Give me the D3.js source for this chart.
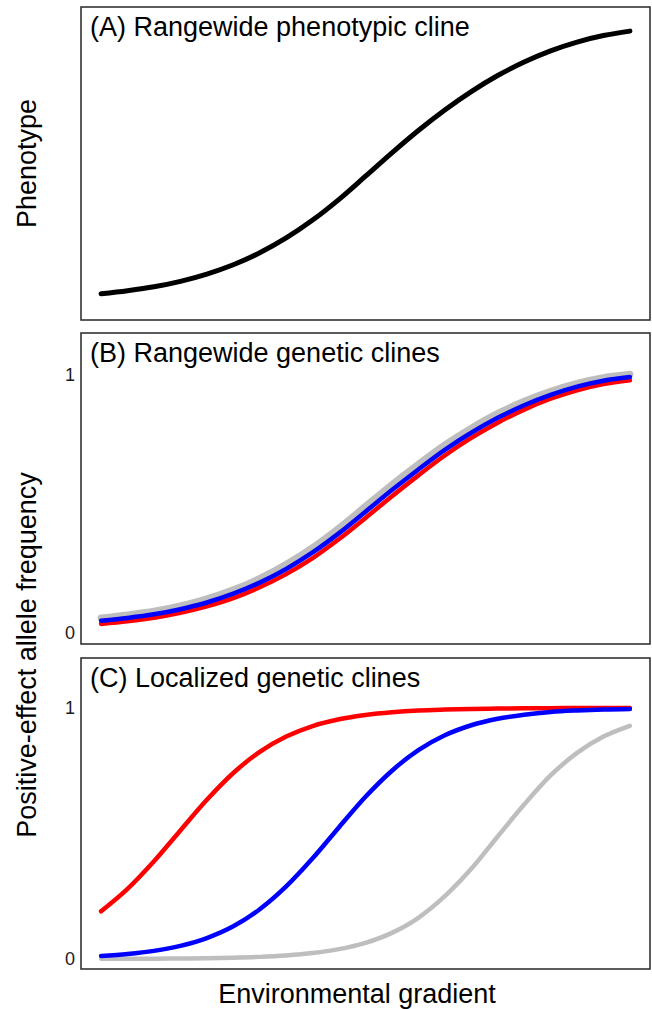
<!DOCTYPE html>
<html>
<head>
<meta charset="utf-8">
<script src="https://cdn.jsdelivr.net/npm/d3@7"></script>
<style>
  html, body { margin: 0; padding: 0; background: #fff; }
  svg text { font-family: "Liberation Sans", Arial, sans-serif; fill: #000; }
</style>
</head>
<body>
<svg id="chart" width="652" height="1009"></svg>
<script>
// Position along the environmental gradient (0 = one end, 1 = the other)
const gradient = [0, 0.05, 0.1, 0.15, 0.2, 0.25, 0.3, 0.35, 0.4, 0.45, 0.5,
                  0.55, 0.6, 0.65, 0.7, 0.75, 0.8, 0.85, 0.9, 0.95, 1];

// (A) rangewide phenotype
const phenotype = [0.058, 0.070, 0.085, 0.106, 0.134, 0.170, 0.216, 0.273, 0.342, 0.422, 0.511,
                   0.601, 0.687, 0.766, 0.837, 0.899, 0.951, 0.994, 1.028, 1.053, 1.070];

// (B) rangewide allele-frequency clines
const rangeGrey = [0.058, 0.070, 0.084, 0.105, 0.132, 0.167, 0.211, 0.266, 0.331, 0.407, 0.491,
                   0.575, 0.654, 0.729, 0.794, 0.851, 0.898, 0.937, 0.968, 0.990, 1.003];
const rangeRed  = [0.035, 0.045, 0.059, 0.078, 0.103, 0.135, 0.177, 0.228, 0.290, 0.364, 0.446,
                   0.530, 0.611, 0.688, 0.756, 0.815, 0.866, 0.908, 0.941, 0.965, 0.980];
const rangeBlue = [0.047, 0.058, 0.072, 0.092, 0.118, 0.152, 0.195, 0.248, 0.312, 0.387, 0.470,
                   0.554, 0.634, 0.710, 0.776, 0.834, 0.883, 0.923, 0.955, 0.978, 0.992];

// (C) localized allele-frequency clines
const localGrey = [0.0004, 0.0006, 0.0010, 0.0017, 0.0029, 0.0050, 0.0083, 0.0140, 0.0234, 0.0392, 0.0642,
                   0.104, 0.164, 0.250, 0.359, 0.488, 0.615, 0.731, 0.821, 0.886, 0.929];
const localRed  = [0.190, 0.279, 0.389, 0.512, 0.634, 0.741, 0.825, 0.886, 0.928, 0.955, 0.972,
                   0.983, 0.990, 0.9936, 0.9961, 0.9976, 0.9986, 0.9991, 0.9995, 0.9997, 0.9998];
const localBlue = [0.0121, 0.0198, 0.0323, 0.0522, 0.0832, 0.130, 0.198, 0.289, 0.401, 0.525, 0.646,
                   0.750, 0.832, 0.891, 0.931, 0.957, 0.973, 0.984, 0.990, 0.994, 0.996];

const freqTicks = [0, 1];
const freqTickLabels = ["0", "1"];

const panelTitles = ["(A) Rangewide phenotypic cline",
                     "(B) Rangewide genetic clines",
                     "(C) Localized genetic clines"];

const svg = d3.select("#chart");
const left = 81, right = 650;

const x = d3.scaleLinear().domain([-0.038, 1.038]).range([left, right]);

const panels = [
  { top: 7,   bottom: 320, domain: [-0.043, 1.163], ticks: false,
    series: [{ values: phenotype, color: "#000000", width: 5 }] },
  { top: 333, bottom: 644, domain: [-0.043, 1.163], ticks: true,
    series: [{ values: rangeGrey, color: "#bebebe", width: 7 },
             { values: rangeRed,  color: "#ff0000", width: 4.5 },
             { values: rangeBlue, color: "#0000ff", width: 4.5 }] },
  { top: 658, bottom: 969, domain: [-0.040, 1.199], ticks: true,
    series: [{ values: localGrey, color: "#bebebe", width: 4.5 },
             { values: localRed,  color: "#ff0000", width: 4.5 },
             { values: localBlue, color: "#0000ff", width: 4.5 }] }
];

panels.forEach((p, i) => {
  const y = d3.scaleLinear().domain(p.domain).range([p.bottom, p.top]);
  const g = svg.append("g");

  const line = d3.line()
    .x((d, j) => x(gradient[j]))
    .y(d => y(d))
    .curve(d3.curveMonotoneX);

  p.series.forEach(s => {
    g.append("path")
      .datum(s.values)
      .attr("d", line)
      .attr("fill", "none")
      .attr("stroke", s.color)
      .attr("stroke-width", s.width)
      .attr("stroke-linecap", "round")
      .attr("stroke-linejoin", "round");
  });

  // panel border
  g.append("rect")
    .attr("x", left).attr("y", p.top)
    .attr("width", right - left).attr("height", p.bottom - p.top)
    .attr("fill", "none").attr("stroke", "#333").attr("stroke-width", 1.6);

  g.append("text")
    .attr("x", left + 9).attr("y", p.top + 29)
    .style("font-size", "27px")
    .text(panelTitles[i]);

  if (p.ticks) {
    const axis = d3.axisLeft(y).tickValues(freqTicks)
      .tickFormat((d, k) => freqTickLabels[k]).tickSize(0).tickPadding(6);
    const ag = g.append("g").attr("transform", `translate(${left},0)`).call(axis);
    ag.select(".domain").remove();
    ag.selectAll("text")
      .style("font-size", "18px")
      .style("font-family", "'Liberation Sans', Arial, sans-serif")
      .style("fill", "#1a1a1a");
  }
});

// axis titles
svg.append("text")
  .attr("transform", `translate(36,${(panels[0].top + panels[0].bottom) / 2}) rotate(-90)`)
  .attr("text-anchor", "middle").style("font-size", "27px")
  .text("Phenotype");

svg.append("text")
  .attr("transform", `translate(36,${(panels[1].top + panels[2].bottom) / 2 + 4}) rotate(-90)`)
  .attr("text-anchor", "middle").style("font-size", "27px")
  .text("Positive-effect allele frequency");

svg.append("text")
  .attr("x", 357).attr("y", 1003)
  .attr("text-anchor", "middle").style("font-size", "27px")
  .text("Environmental gradient");
</script>
</body>
</html>
